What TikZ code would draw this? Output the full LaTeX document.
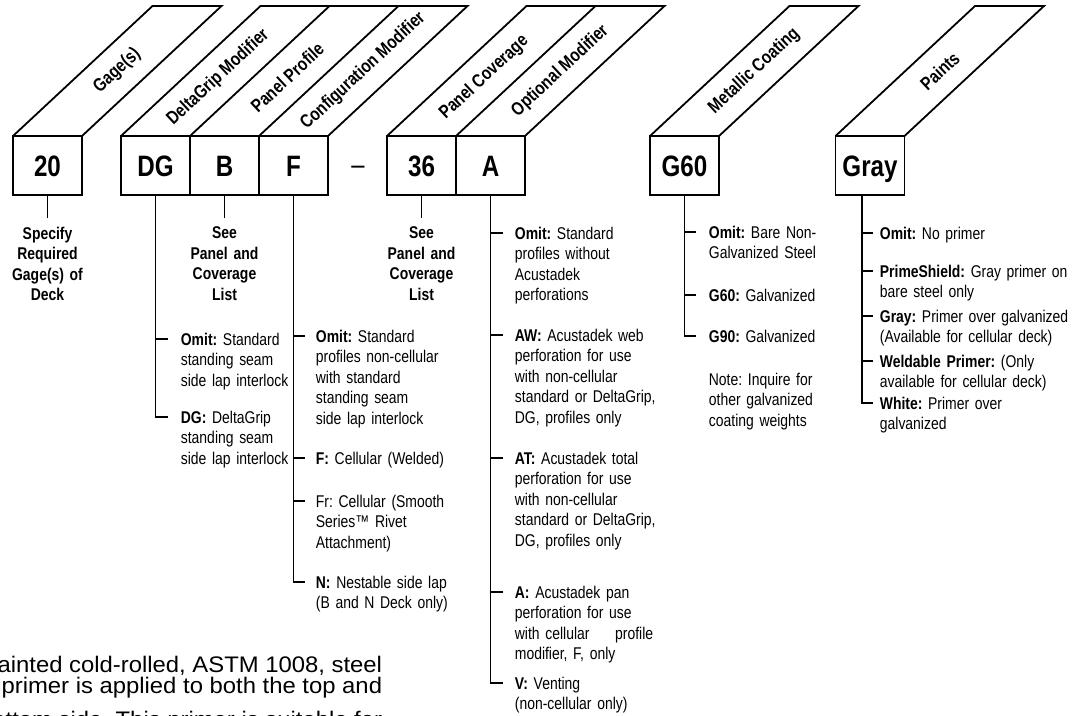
\documentclass[tikz,border=0pt]{standalone}
\usepackage{fontspec}
\setmainfont{Liberation Sans}[FakeStretch=0.82]
\newfontfamily\parafont{Liberation Sans}[FakeStretch=1.06]
\usetikzlibrary{positioning}
\frenchspacing

\begin{document}
\frenchspacing
\begin{tikzpicture}[
  x=1pt, y=-1pt, line width=1.8pt,
  codebox/.style={draw, minimum width=69pt, minimum height=59pt, inner sep=0pt, outer sep=0pt, text height=21pt, text depth=0pt, font={\fontsize{29.5}{30}\selectfont\bfseries}},
  hdrlbl/.style={font={\fontsize{18.5}{19}\selectfont\bfseries}, inner sep=0pt, sloped},
  keynote/.style={font={\fontsize{17}{20.5}\selectfont\bfseries}, text width=96pt, align=center, inner xsep=0pt, inner ysep=8pt},
  item/.style={font={\fontsize{17}{20.5}\selectfont}, text width=#1, align=left, inner sep=0pt, anchor=base west},
  item/.default=150pt,
  paraline/.style={font={\parafont\fontsize{22.5}{23}\selectfont}, inner sep=0pt, anchor=base east}
]
\useasboundingbox (0,0) rectangle (1086,715);
\clip (0,0) rectangle (1086,715);

% code boxes
\node[codebox] (gage) at (47.5,165.5) {20};
\node[codebox] (grip) at (155.5,165.5) {DG};
\node[codebox, right=0pt of grip] (profile) {B};
\node[codebox, right=0pt of profile] (config) {F};
\node[font={\fontsize{29}{30}\selectfont}, inner sep=0pt] (dash) at (358,170) {--};
\node[codebox] (cover) at (421.5,165.5) {36};
\node[codebox, right=0pt of cover] (option) {A};
\node[codebox] (coat) at (684.5,165.5) {G60};
\node[codebox] (paint) at (870,165.5) {Gray};

% slanted headers
\draw (gage.north west) -- ++(139.5,-130) -- ++(69,0) -- (gage.north east);
\path (gage.north) -- ++(139.5,-130) node[hdrlbl, pos=0.5] (gagehdr) {Gage(s)};
\draw (grip.north west) -- ++(139.5,-130) -- ++(207,0) -- (config.north east);
\draw (profile.north west) -- ++(139.5,-130);
\draw (config.north west) -- ++(139.5,-130);
\path (grip.north) -- ++(139.5,-130) node[hdrlbl, pos=0.45] (griphdr) {DeltaGrip Modifier};
\path (profile.north) -- ++(139.5,-130) node[hdrlbl, pos=0.45] (profilehdr) {Panel Profile};
\path (config.north) -- ++(139.5,-130) node[hdrlbl, pos=0.5] (confighdr) {Configuration Modifier};
\draw (cover.north west) -- ++(139.5,-130) -- ++(138,0) -- (option.north east);
\draw (option.north west) -- ++(139.5,-130);
\path (cover.north) -- ++(139.5,-130) node[hdrlbl, pos=0.45] (coverhdr) {Panel Coverage};
\path (option.north) -- ++(139.5,-130) node[hdrlbl, pos=0.5] (optionhdr) {Optional Modifier};
\draw (coat.north west) -- ++(139.5,-130) -- ++(69,0) -- (coat.north east);
\path (coat.north) -- ++(139.5,-130) node[hdrlbl, pos=0.5] (coathdr) {Metallic Coating};
\draw (paint.north west) -- ++(139.5,-130) -- ++(69,0) -- (paint.north east);
\path (paint.north) -- ++(139.5,-130) node[hdrlbl, pos=0.5] (painthdr) {Paints};

% single notes
\node[keynote, below=23pt of gage] (gagenote) {Specify\\Required\\Gage(s) of\\Deck};
\draw (gage) -- (gagenote);
\node[keynote, below=23pt of profile] (profilenote) {See\\Panel and\\Coverage\\List};
\draw (profile) -- (profilenote);
\node[keynote, below=23pt of cover] (covernote) {See\\Panel and\\Coverage\\List};
\draw (cover) -- (covernote);

% DeltaGrip modifier
\node[item=110pt] (gripomit) at (180,345) {\textbf{Omit:} Standard\\standing seam\\side lap interlock};
\node[item=110pt] (gripdg) at (180,423) {\textbf{DG:} DeltaGrip\\standing seam\\side lap interlock};
\coordinate (gripomit-t) at ([xshift=-12pt,yshift=6pt]gripomit.base west);
\coordinate (gripdg-t) at ([xshift=-12pt,yshift=6pt]gripdg.base west);
\draw (grip.south) |- (gripdg-t);
\draw (gripomit-t -| grip.south) -- (gripomit-t);

% configuration modifier
\node[item] (cfgomit) at (315,342) {\textbf{Omit:} Standard\\profiles non-cellular\\with standard\\standing seam\\side lap interlock};
\node[item] (cfgf) at (315,464) {\textbf{F:} Cellular (Welded)};
\node[item] (cfgfr) at (315,507) {Fr: Cellular (Smooth\\Series™ Rivet\\Attachment)};
\node[item] (cfgn) at (315,588) {\textbf{N:} Nestable side lap\\(B and N Deck only)};
\coordinate (cfgomit-t) at ([xshift=-10pt,yshift=6pt]cfgomit.base west);
\coordinate (cfgf-t) at ([xshift=-10pt,yshift=6pt]cfgf.base west);
\coordinate (cfgfr-t) at ([xshift=-10pt,yshift=6pt]cfgfr.base west);
\coordinate (cfgn-t) at ([xshift=-10pt,yshift=6pt]cfgn.base west);
\draw (config.south) |- (cfgn-t);
\draw (cfgomit-t -| config.south) -- (cfgomit-t);
\draw (cfgf-t -| config.south) -- (cfgf-t);
\draw (cfgfr-t -| config.south) -- (cfgfr-t);

% optional modifier
\node[item=145pt] (optomit) at (514,239) {\textbf{Omit:} Standard\\profiles without\\Acustadek\\perforations};
\node[item=145pt] (optaw) at (514,341) {\textbf{AW:} Acustadek web\\perforation for use\\with non-cellular\\standard or DeltaGrip,\\DG, profiles only};
\node[item=145pt] (optat) at (514,464) {\textbf{AT:} Acustadek total\\perforation for use\\with non-cellular\\standard or DeltaGrip,\\DG, profiles only};
\node[item=145pt] (opta) at (514,598) {\textbf{A:} Acustadek pan\\perforation for use\\with cellular\hspace{20pt} profile\\modifier, F, only};
\node[item=145pt] (optv) at (514,689) {\textbf{V:} Venting\\(non-cellular only)};
\coordinate (optomit-t) at ([xshift=-11pt,yshift=6pt]optomit.base west);
\coordinate (optaw-t) at ([xshift=-11pt,yshift=6pt]optaw.base west);
\coordinate (optat-t) at ([xshift=-11pt,yshift=6pt]optat.base west);
\coordinate (opta-t) at ([xshift=-11pt,yshift=6pt]opta.base west);
\coordinate (optv-t) at ([xshift=-11pt,yshift=6pt]optv.base west);
\draw (option.south) |- (optv-t);
\draw (optomit-t -| option.south) -- (optomit-t);
\draw (optaw-t -| option.south) -- (optaw-t);
\draw (optat-t -| option.south) -- (optat-t);
\draw (opta-t -| option.south) -- (opta-t);

% metallic coating
\node[item=120pt] (coatomit) at (708,238) {\textbf{Omit:} Bare Non-\\Galvanized Steel};
\node[item=120pt] (coatgsix) at (708,301) {\textbf{G60:} Galvanized};
\node[item=120pt] (coatgnine) at (708,342) {\textbf{G90:} Galvanized};
\node[item=120pt] (coatnote) at (708,385) {Note: Inquire for\\other galvanized\\coating weights};
\coordinate (coatomit-t) at ([xshift=-12pt,yshift=6pt]coatomit.base west);
\coordinate (coatgsix-t) at ([xshift=-12pt,yshift=6pt]coatgsix.base west);
\coordinate (coatgnine-t) at ([xshift=-12pt,yshift=6pt]coatgnine.base west);
\draw (coat.south) |- (coatgnine-t);
\draw (coatomit-t -| coat.south) -- (coatomit-t);
\draw (coatgsix-t -| coat.south) -- (coatgsix-t);

% paints
\coordinate (paintstem) at ([xshift=-8pt]paint.south);
\node[item=195pt] (paintomit) at (879,239) {\textbf{Omit:} No primer};
\node[item=195pt] (paintshield) at (879,277) {\textbf{PrimeShield:} Gray primer on\\bare steel only};
\node[item=195pt] (paintgray) at (879,322) {\textbf{Gray:} Primer over galvanized\\(Available for cellular deck)};
\node[item=195pt] (paintweld) at (879,367) {\textbf{Weldable Primer:} (Only\\available for cellular deck)};
\node[item=195pt] (paintwhite) at (879,409) {\textbf{White:} Primer over\\galvanized};
\coordinate (paintomit-t) at ([xshift=-6pt,yshift=6pt]paintomit.base west);
\coordinate (paintshield-t) at ([xshift=-6pt,yshift=6pt]paintshield.base west);
\coordinate (paintgray-t) at ([xshift=-6pt,yshift=6pt]paintgray.base west);
\coordinate (paintweld-t) at ([xshift=-6pt,yshift=6pt]paintweld.base west);
\coordinate (paintwhite-t) at ([xshift=-6pt,yshift=6pt]paintwhite.base west);
\draw (paintstem) |- (paintwhite-t);
\draw (paintomit-t -| paintstem) -- (paintomit-t);
\draw (paintshield-t -| paintstem) -- (paintshield-t);
\draw (paintgray-t -| paintstem) -- (paintgray-t);
\draw (paintweld-t -| paintstem) -- (paintweld-t);

% body text, cut off by the page edge
\node[paraline] (paraone) at (383,672) {Unpainted cold-rolled, ASTM 1008, steel};
\node[paraline] (paratwo) at (383,693) {Gray primer is applied to both the top and};
\node[paraline] (parathree) at (383,727) {bottom side. This primer is suitable for};
\end{tikzpicture}
\end{document}
